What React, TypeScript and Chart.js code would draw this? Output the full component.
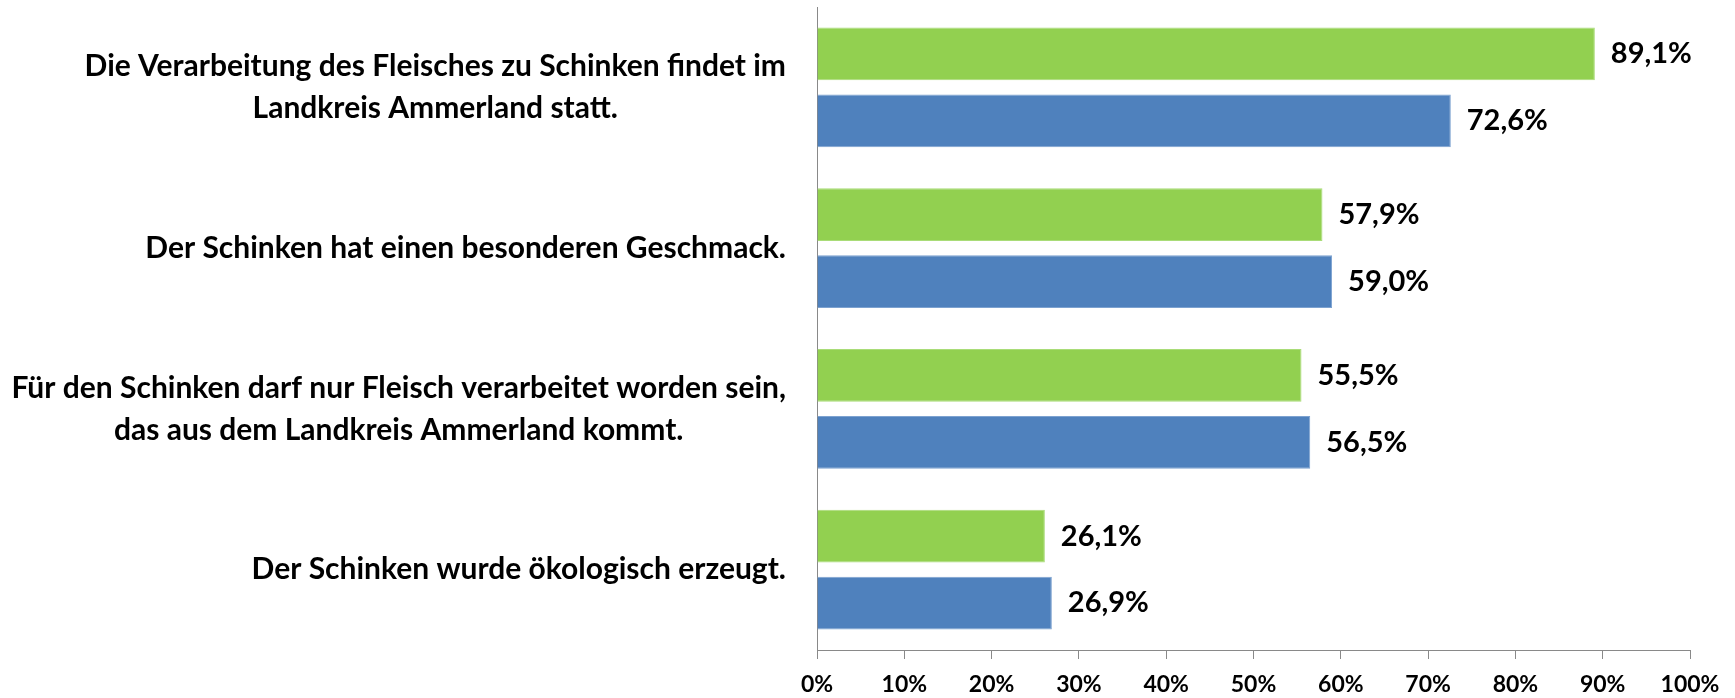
import React, { useEffect, useRef } from "react";
import { Chart, registerables } from "chart.js";

Chart.register(...registerables);

// ---- data ----
const categoryLines: string[][] = [
  ["Die Verarbeitung des Fleisches zu Schinken findet im", "Landkreis Ammerland statt."],
  ["Der Schinken hat einen besonderen Geschmack."],
  ["Für den Schinken darf nur Fleisch verarbeitet worden sein,", "das aus dem Landkreis Ammerland kommt."],
  ["Der Schinken wurde ökologisch erzeugt."],
];
const greenValues = [89.1, 57.9, 55.5, 26.1];
const blueValues = [72.6, 59.0, 56.5, 26.9];
const xTickValues = [0, 10, 20, 30, 40, 50, 60, 70, 80, 90, 100];

// ---- styles ----
const FONT_FAMILY = "Lato, 'Open Sans', sans-serif";
const CAT_FONT_SIZE = 30;
const CAT_LINE_H = 42;
const CAT_GAP = 31;
const LABEL_FONT_SIZE = 29;
const TICK_FONT_SIZE = 23;
const AXIS_COLOR = "#898989";
const GREEN = "#92D050";
const BLUE = "#4F81BD";

const fmt = (v: number) => v.toFixed(1).replace(".", ",") + "%";

const categoryLabelPlugin = {
  id: "categoryLabels",
  afterDraw(chart: any) {
    const ctx = chart.ctx as CanvasRenderingContext2D;
    const yScale = chart.scales.y;
    ctx.save();
    ctx.font = `bold ${CAT_FONT_SIZE}px ${FONT_FAMILY}`;
    ctx.fillStyle = "#000000";
    ctx.textAlign = "center";
    ctx.textBaseline = "middle";
    categoryLines.forEach((lines, i) => {
      const cy = yScale.getPixelForValue(i);
      const maxW = Math.max(...lines.map((l) => ctx.measureText(l).width));
      const cx = chart.chartArea.left - CAT_GAP - maxW / 2;
      lines.forEach((l, j) => {
        ctx.fillText(l, cx, cy + (j - (lines.length - 1) / 2) * CAT_LINE_H);
      });
    });
    ctx.restore();
  },
};

const valueLabelPlugin = {
  id: "valueLabels",
  afterDatasetsDraw(chart: any) {
    const ctx = chart.ctx as CanvasRenderingContext2D;
    ctx.save();
    ctx.font = `bold ${LABEL_FONT_SIZE}px ${FONT_FAMILY}`;
    ctx.fillStyle = "#000000";
    ctx.textAlign = "left";
    ctx.textBaseline = "middle";
    chart.data.datasets.forEach((ds: any, di: number) => {
      const meta = chart.getDatasetMeta(di);
      meta.data.forEach((bar: any, i: number) => {
        ctx.fillText(fmt(ds.data[i]), bar.x + 16, bar.y);
      });
    });
    ctx.restore();
  },
};

export default function App() {
  const canvasRef = useRef<HTMLCanvasElement | null>(null);

  useEffect(() => {
    if (!canvasRef.current) return;
    const chart = new Chart(canvasRef.current, {
      type: "bar",
      data: {
        labels: categoryLines.map((l) => l.join(" ")),
        datasets: [
          {
            data: greenValues,
            backgroundColor: GREEN,
            borderColor: "#A9DC78",
            borderWidth: 1,
            categoryPercentage: 0.832,
            barPercentage: 0.79,
          },
          {
            data: blueValues,
            backgroundColor: BLUE,
            borderColor: "#7DA2D0",
            borderWidth: 1,
            categoryPercentage: 0.832,
            barPercentage: 0.79,
          },
        ],
      },
      options: {
        indexAxis: "y",
        responsive: false,
        animation: false,
        layout: { padding: { top: 7, right: 45, bottom: 0, left: 0 } },
        plugins: {
          legend: { display: false },
          tooltip: { enabled: false },
        },
        scales: {
          x: {
            type: "linear",
            min: 0,
            max: 100,
            afterBuildTicks: (scale: any) => {
              scale.ticks = xTickValues.map((v) => ({ value: v }));
            },
            afterFit: (scale: any) => {
              scale.height = 48;
            },
            ticks: {
              padding: 12,
              color: "#000000",
              font: { family: FONT_FAMILY, size: TICK_FONT_SIZE, weight: "bold" },
              callback: (v: any) => v + "%",
              maxRotation: 0,
              autoSkip: false,
            },
            grid: {
              display: true,
              drawOnChartArea: false,
              drawTicks: true,
              tickLength: 9,
              color: AXIS_COLOR,
              lineWidth: 1,
            },
            border: { display: true, color: AXIS_COLOR, width: 1 },
          },
          y: {
            type: "category",
            afterFit: (scale: any) => {
              scale.width = 817;
            },
            ticks: { display: false },
            grid: { display: false, drawTicks: false },
            border: { display: true, color: AXIS_COLOR, width: 1 },
          },
        },
      },
      plugins: [categoryLabelPlugin, valueLabelPlugin],
    } as any);
    return () => chart.destroy();
  }, []);

  return (
    <div style={{ position: "absolute", left: 0, top: 0, width: 1735, height: 698, background: "#ffffff" }}>
      <canvas ref={canvasRef} width={1735} height={698} style={{ display: "block" }} />
    </div>
  );
}
